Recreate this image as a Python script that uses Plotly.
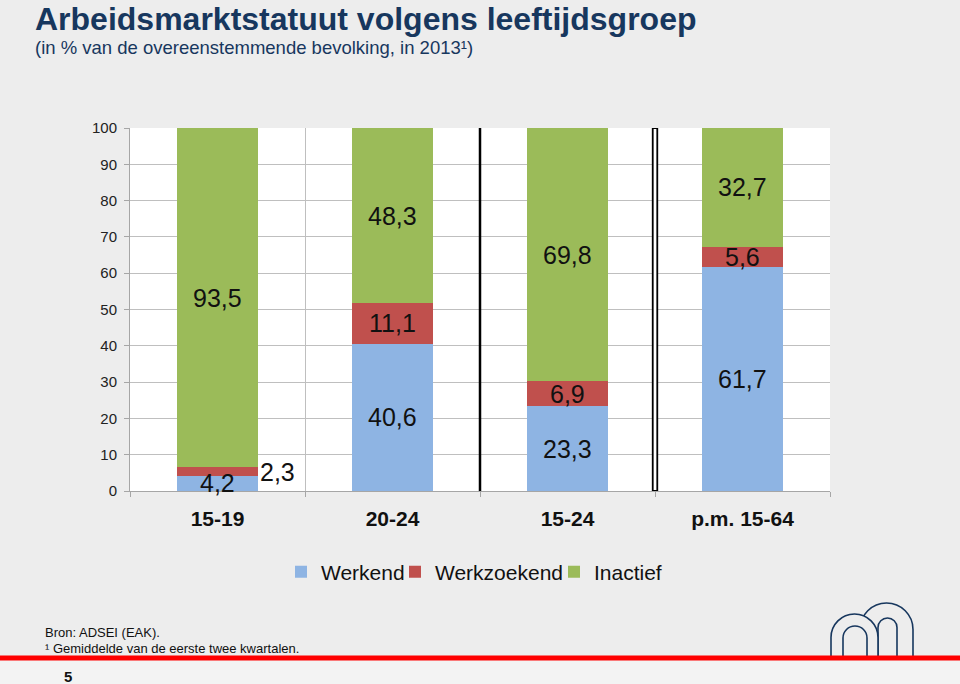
import plotly.graph_objects as go

# ---------------- data ----------------
categories = ["15-19", "20-24", "15-24", "p.m. 15-64"]
werkend = [4.2, 40.6, 23.3, 61.7]
werkzoekend = [2.3, 11.1, 6.9, 5.6]
inactief = [93.5, 48.3, 69.8, 32.7]
series_names = ["Werkend", "Werkzoekend", "Inactief"]
series_colors = ["#8EB4E3", "#C0504D", "#9BBB59"]

y_ticks = [0, 10, 20, 30, 40, 50, 60, 70, 80, 90, 100]

BG = "#EDEDED"
NAVY = "#17375E"
FONT = "Liberation Sans, Arial, sans-serif"

W, H = 960, 684
L, R, T, B = 130, 830, 128, 491  # plot area in pixels


def PX(px):
    return (px - L) / (R - L)


def PY(py):
    return (B - py) / (B - T)


xpos = list(range(len(categories)))
fig = go.Figure()
all_series = [werkend, werkzoekend, inactief]
legend_ids = ["legend", "legend2", "legend3"]
for name, vals, col, lg in zip(series_names, all_series, series_colors, legend_ids):
    fig.add_trace(go.Bar(
        x=xpos, y=vals, name=name, marker=dict(color=col, line=dict(width=0)),
        width=0.465, hoverinfo="skip", legend=lg))

# data labels
annotations = []
for i in xpos:
    base = 0.0
    for vals in all_series:
        v = vals[i]
        txt = f"{v:.1f}".replace(".", ",")
        shift = 60 if v < 3 else 0
        annotations.append(dict(x=i, y=base + v / 2, xref="x", yref="y", text=txt,
                                showarrow=False, xshift=shift,
                                font=dict(size=25, color="#111111", family=FONT)))
        base += v

# titles and footer texts
annotations += [
    dict(x=PX(34), y=PY(18.5), xref="paper", yref="paper", xanchor="left", yanchor="middle",
         text="<b>Arbeidsmarktstatuut volgens leeftijdsgroep</b>", showarrow=False, borderpad=0,
         font=dict(size=32, color=NAVY, family=FONT)),
    dict(x=PX(34), y=PY(47), xref="paper", yref="paper", xanchor="left", yanchor="middle",
         text="(in % van de overeenstemmende bevolking, in 2013\u00b9)", showarrow=False,
         borderpad=0, font=dict(size=18.5, color=NAVY, family=FONT)),
    dict(x=PX(43), y=PY(632), xref="paper", yref="paper", xanchor="left", yanchor="middle",
         text="Bron: ADSEI (EAK).", showarrow=False,
         font=dict(size=13, color="#111111", family=FONT)),
    dict(x=PX(43), y=PY(648), xref="paper", yref="paper", xanchor="left", yanchor="middle",
         text="\u00b9 Gemiddelde van de eerste twee kwartalen.", showarrow=False,
         font=dict(size=13, color="#111111", family=FONT)),
    dict(x=PX(68), y=PY(676), xref="paper", yref="paper", xanchor="center", yanchor="middle",
         text="<b>5</b>", showarrow=False,
         font=dict(size=15, color="#111111", family=FONT)),
]

shapes = []
# lighter strip below the red line
shapes.append(dict(type="rect", xref="paper", yref="paper", x0=PX(0), x1=PX(W), y0=PY(684), y1=PY(659),
                   fillcolor="#F3F3F3", line=dict(width=0), layer="below"))
# separator lines in the chart
shapes.append(dict(type="line", xref="x", yref="y", x0=1.5, x1=1.5, y0=0, y1=100,
                   line=dict(color="black", width=2.5)))
shapes.append(dict(type="rect", xref="x", yref="y", x0=2.5 - 0.013, x1=2.5 + 0.013, y0=0, y1=100,
                   fillcolor="white", line=dict(color="black", width=1.8)))

# logo (arches)
K = 0.5523


def arch(a, b, top, bottom, close=False):
    rx = (b - a) / 2.0
    c = (a + b) / 2.0
    ys = top + rx
    pts = [("M", [(a, bottom)]), ("L", [(a, ys)]),
           ("C", [(a, ys - K * rx), (c - K * rx, top), (c, top)]),
           ("C", [(c + K * rx, top), (b, ys - K * rx), (b, ys)]),
           ("L", [(b, bottom)])]
    s = ""
    for cmd, plist in pts:
        s += cmd + " " + " ".join(f"{PX(x):.5f},{PY(y):.5f}" for x, y in plist) + " "
    if close:
        s += "Z"
    return s


shapes.append(dict(type="path", xref="paper", yref="paper", path=arch(860, 913, 603, 657),
                   line=dict(color=NAVY, width=1.6)))
shapes.append(dict(type="path", xref="paper", yref="paper", path=arch(878, 897, 618, 657),
                   line=dict(color=NAVY, width=1.6)))
shapes.append(dict(type="path", xref="paper", yref="paper", path=arch(831, 878, 614, 657, close=True),
                   line=dict(color=NAVY, width=1.6), fillcolor=BG))
shapes.append(dict(type="path", xref="paper", yref="paper", path=arch(843, 867, 626, 657),
                   line=dict(color=NAVY, width=1.6)))
# red line
shapes.append(dict(type="line", xref="paper", yref="paper", x0=PX(0), x1=PX(W), y0=PY(658), y1=PY(658),
                   line=dict(color="#FF0000", width=5)))


def legend_at(text_start_px):
    return dict(orientation="h", x=PX(text_start_px - 40), y=PY(572), xanchor="left", yanchor="middle",
                font=dict(size=21, color="#111111", family=FONT), itemwidth=30,
                bgcolor="rgba(0,0,0,0)", borderwidth=0)


fig.update_layout(
    width=W, height=H,
    margin=dict(l=L, r=W - R, t=T, b=H - B, pad=0),
    paper_bgcolor=BG, plot_bgcolor="white",
    barmode="stack",
    showlegend=True,
    legend=legend_at(321),
    legend2=legend_at(435),
    legend3=legend_at(594),
    annotations=annotations,
    shapes=shapes,
    font=dict(family=FONT),
)

fig.update_xaxes(
    range=[-0.5, 3.5], tickvals=xpos, ticktext=[f"<b>{c}</b>" for c in categories],
    ticks="", showgrid=False, zeroline=False,
    showline=True, linecolor="#A6A6A6", linewidth=1,
    tickfont=dict(size=21, color="#111111", family=FONT), ticklabelstandoff=9,
    minor=dict(tickvals=[-0.5, 0.5, 1.5, 2.5, 3.5], ticks="outside", ticklen=5,
               tickcolor="#A6A6A6", showgrid=True, gridcolor="#BFBFBF", gridwidth=1),
    fixedrange=True,
)
fig.update_yaxes(
    range=[0, 100], tickvals=y_ticks, ticks="outside", ticklen=5, tickcolor="#A6A6A6",
    showgrid=True, gridcolor="#BFBFBF", gridwidth=1, zeroline=False,
    showline=True, linecolor="#A6A6A6", linewidth=1,
    tickfont=dict(size=15, color="#222222", family=FONT), ticklabelstandoff=4,
    fixedrange=True,
)

fig.write_html("out.html", config={"displayModeBar": False},
               post_script="document.body.style.margin='0';document.body.style.overflow='hidden';")
